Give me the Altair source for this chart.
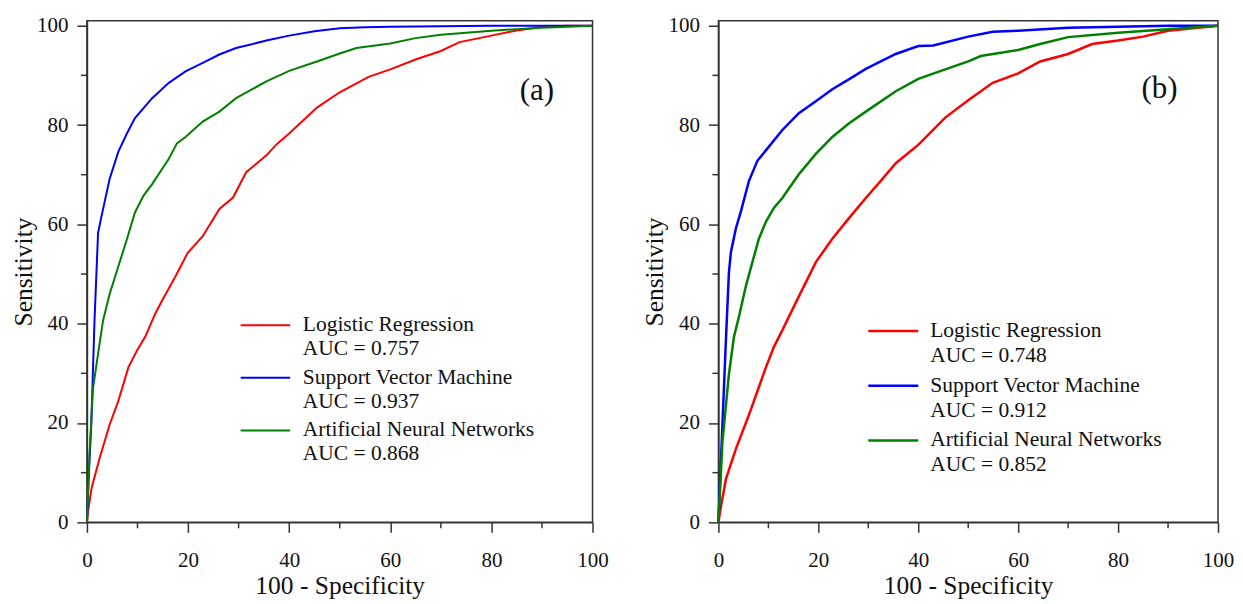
import altair as alt
import pandas as pd

FONT = "Liberation Serif"

models = ["Logistic Regression", "Support Vector Machine", "Artificial Neural Networks"]
colors = ["#ff0000", "#0000ff", "#008000"]

# ---- panel (a) ----
a_lr_x = [0, 0.2, 0.9, 2.5, 4.5, 6.2, 8.2, 9.9, 11.5, 13.5, 14.9, 17.5, 19.9, 22.9, 26.2, 28.9, 31.5,
          35.5, 37.6, 40, 45.5, 50, 55.7, 60, 65, 70, 73.7, 80, 84.7, 90, 95, 100]
a_lr_y = [0, 2, 6.8, 12.9, 19.7, 24.4, 31.2, 34.6, 37.3, 42, 44.7, 49.5, 54.2, 57.6, 63.1, 65.4, 70.5,
          73.9, 76.2, 78.3, 83.5, 86.6, 89.7, 91.2, 93.2, 94.9, 96.7, 98, 99, 99.8, 100, 100]
a_svm_x = [0, 0.3, 0.87, 1.5, 2.2, 2.9, 4.5, 6.2, 7.9, 9.5, 12.9, 16.2, 19.5, 22.9, 26.2, 29.5, 35.5,
           40, 45, 50, 55, 60, 70, 80, 90, 100]
a_svm_y = [0, 8, 20, 40.7, 58.3, 61.7, 69.2, 74.6, 78.3, 81.4, 85.4, 88.5, 90.8, 92.5, 94.2, 95.5, 97,
           98, 98.9, 99.5, 99.7, 99.8, 99.9, 100, 100, 100]
a_ann_x = [0, 0.5, 1.2, 2.2, 3.2, 4.5, 6.2, 7.9, 9.5, 11.2, 12.9, 16.2, 17.8, 19.5, 22.9, 26.2, 29.5,
           35.5, 40, 45.5, 50, 53.3, 60, 65, 70, 80, 90, 100]
a_ann_y = [0, 13.6, 27, 33.9, 40.7, 46, 51.5, 57, 62.4, 65.8, 68.1, 73.2, 76.3, 77.6, 80.7, 82.7, 85.4,
           88.8, 90.9, 92.8, 94.4, 95.5, 96.4, 97.5, 98.2, 99, 99.6, 100]
a_auc = ["0.757", "0.937", "0.868"]

# ---- panel (b) ----
b_lr_x = [0, 0.5, 1.5, 3.5, 6.1, 7.8, 9.5, 11.1, 12.8, 16.1, 19.5, 22.8, 26.1, 29.5, 32.8, 35.5, 40,
          45.4, 50, 54.9, 60, 64.4, 70, 74.8, 80, 85, 90, 95, 100]
b_lr_y = [0, 3.2, 8.7, 14.8, 21.6, 26.4, 31.2, 35.3, 38.7, 45.5, 52.4, 57.1, 61.2, 65.3, 69.1, 72.3, 76,
          81.5, 85, 88.5, 90.4, 92.8, 94.3, 96.3, 97, 97.8, 99, 99.5, 100]
b_svm_x = [0, 0.8, 1.5, 2.1, 2.5, 3.5, 4.5, 6.1, 7.8, 9.5, 12.8, 16.1, 19.5, 22.8, 26.1, 29.5, 35.5,
           40, 43, 50, 54.9, 60, 70, 80, 90, 100]
b_svm_y = [0, 19.6, 36.7, 50.3, 54.4, 59.2, 62.6, 68.7, 72.8, 74.9, 79, 82.4, 84.8, 87.2, 89.2, 91.3,
           94.3, 95.9, 96, 97.8, 98.8, 99, 99.6, 99.8, 100, 100]
b_ann_x = [0, 0.8, 2.1, 3.1, 4.1, 5.5, 6.8, 8.1, 9.5, 11.1, 12.8, 16.1, 19.5, 22.8, 26.1, 29.5, 35.5,
           40, 45.4, 50, 52.5, 60, 64.4, 70, 80, 90, 100]
b_ann_y = [0, 16.2, 29.8, 37.3, 41.4, 47.6, 52.4, 57.1, 60.5, 63.3, 65.3, 70.1, 74.2, 77.6, 80.3, 82.7,
           86.8, 89.3, 91.2, 92.8, 93.9, 95.1, 96.3, 97.7, 98.6, 99.3, 100]
b_auc = ["0.748", "0.912", "0.852"]

major_ticks = [0, 20, 40, 60, 80, 100]
minor_ticks = [10, 30, 50, 70, 90]


def curves_df(series):
    rows = []
    for model, xs, ys in series:
        for i, (x, y) in enumerate(zip(xs, ys)):
            rows.append({"model": model, "i": i, "x": x, "y": y})
    return pd.DataFrame(rows)


def panel(series, aucs, label, W, H, leg_y, leg_step, auc_off, leg_x, label_xy, sw):
    xs = alt.Scale(domain=[0, 100], nice=False, zero=False)
    ys = alt.Scale(domain=[0, 101], nice=False, zero=False)
    color = alt.Color("model:N", scale=alt.Scale(domain=models, range=colors), legend=None)

    xaxis = alt.Axis(values=major_ticks, title="100 - Specificity", tickSize=10, labelPadding=17,
                     titlePadding=3, labelFlush=False, labelOverlap=False)
    yaxis = alt.Axis(values=major_ticks, title="Sensitivity", tickSize=10, labelPadding=9,
                     titlePadding=0, labelOverlap=False)

    lines = alt.Chart(curves_df(series)).mark_line(strokeWidth=sw).encode(
        x=alt.X("x:Q", scale=xs, axis=xaxis),
        y=alt.Y("y:Q", scale=ys, axis=yaxis),
        color=color,
        order="i:Q",
    )

    minor_x = alt.Chart(pd.DataFrame({"v": minor_ticks})).mark_rule(
        color="#333", strokeWidth=1.5).encode(
        x=alt.X("v:Q", scale=xs, axis=xaxis),
        y=alt.value(H), y2=alt.value(H + 6))
    minor_y = alt.Chart(pd.DataFrame({"v": minor_ticks})).mark_rule(
        color="#333", strokeWidth=1.5).encode(
        y=alt.Y("v:Q", scale=ys, axis=yaxis),
        x=alt.value(0), x2=alt.value(-6))

    leg = pd.DataFrame({
        "model": models,
        "ly": [leg_y - k * leg_step for k in range(3)],
        "x1": [leg_x[0]] * 3,
        "x2": [leg_x[1]] * 3,
    })
    leg_lines = alt.Chart(leg).mark_rule(strokeWidth=sw).encode(
        x=alt.X("x1:Q", scale=xs, axis=xaxis), x2="x2:Q",
        y=alt.Y("ly:Q", scale=ys, axis=yaxis), color=color)

    txt_rows = []
    for k, (m, a) in enumerate(zip(models, aucs)):
        yy = leg_y - k * leg_step
        txt_rows.append({"t": m, "tx": leg_x[2], "ty": yy})
        txt_rows.append({"t": "AUC = " + a, "tx": leg_x[2], "ty": yy - auc_off})
    leg_text = alt.Chart(pd.DataFrame(txt_rows)).mark_text(
        align="left", baseline="middle", font=FONT, fontSize=21.5, color="#111").encode(
        x=alt.X("tx:Q", scale=xs, axis=xaxis),
        y=alt.Y("ty:Q", scale=ys, axis=yaxis), text="t:N")

    lab = alt.Chart(pd.DataFrame({"t": [label], "lx": [label_xy[0]], "ly": [label_xy[1]]})).mark_text(
        align="center", baseline="middle", font=FONT, fontSize=31, color="#111").encode(
        x=alt.X("lx:Q", scale=xs, axis=xaxis),
        y=alt.Y("ly:Q", scale=ys, axis=yaxis), text="t:N")

    return alt.layer(lines, minor_x, minor_y, leg_lines, leg_text, lab).properties(width=W, height=H)


left = panel(
    [(models[0], a_lr_x, a_lr_y), (models[1], a_svm_x, a_svm_y), (models[2], a_ann_x, a_ann_y)],
    a_auc, "(a)", 506, 502, 39.7, 10.6, 4.8, (30.4, 40.2, 42.7), (89, 86.8), 2)
right = panel(
    [(models[0], b_lr_x, b_lr_y), (models[1], b_svm_x, b_svm_y), (models[2], b_ann_x, b_ann_y)],
    b_auc, "(b)", 500, 502, 38.5, 11.0, 5.0, (30.0, 40.0, 42.4), (88.3, 87.2), 2.5)

chart = alt.hconcat(left, right, spacing=32).properties(
    padding={"left": 2, "top": 5.5, "right": 0, "bottom": 2}
).configure_view(
    stroke="#333", strokeWidth=1.5
).configure_axis(
    domainColor="#333", tickColor="#333", domainWidth=1.5, tickWidth=1.5,
    labelFont=FONT, titleFont=FONT, labelFontSize=21, titleFontSize=25.5,
    labelColor="#111", titleColor="#111", titleFontWeight="normal", grid=False,
)

chart.save("out.html", embed_options={"renderer": "svg", "actions": False})
